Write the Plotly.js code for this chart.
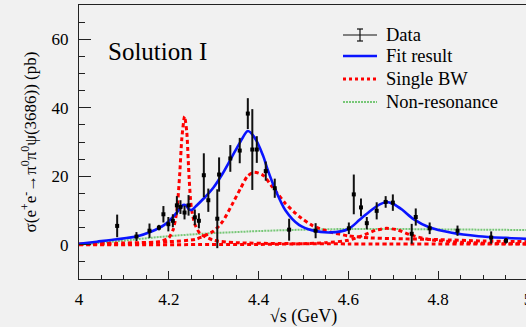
<!DOCTYPE html>
<html>
<head>
<meta charset="utf-8">
<script src="https://cdn.plot.ly/plotly-3.0.1.min.js"></script>
<style>
html,body{margin:0;padding:0;overflow:hidden;background:#f1f1f1;}
#chart{width:530px;height:327px;}
</style>
</head>
<body>
<div id="chart"></div>
<script>
// Data points
const dataX = [4.085,4.128,4.157,4.178,4.188,4.199,4.209,4.218,4.226,4.235,4.244,4.258,4.267,4.278,4.288,4.308,4.312,4.337,4.358,4.376,4.386,4.396,4.416,4.436,4.468,4.527,4.601,4.612,4.628,4.641,4.663,4.683,4.699,4.741,4.750,4.781,4.843,4.918,4.951];
const dataY = [5.5,2.4,4.1,5.0,8.9,6.0,7.0,11.5,11.0,9.4,11.5,8.0,7.0,20.3,13.0,7.6,20.5,25.2,27.5,38.3,27.8,27.8,21.5,16.5,4.4,4.1,4.8,14.7,10.9,6.3,9.9,12.5,12.3,3.2,8.1,4.8,4.1,2.1,1.2];
const dataErr = [3.3,1.3,2.1,0.8,2.4,2.1,1.9,2.7,2.0,2.0,3.0,2.3,2.2,6.4,3.4,8.6,5.0,3.9,3.7,4.5,11.8,3.9,2.8,2.8,3.2,2.2,1.7,5.8,2.6,1.8,2.5,1.7,2.4,2.9,2.5,1.7,1.5,1.8,0.8];

// Fit result
const fitX = [4.00,4.04,4.085,4.13,4.16,4.19,4.21,4.225,4.232,4.238,4.245,4.252,4.26,4.28,4.30,4.32,4.34,4.36,4.376,4.39,4.41,4.42,4.436,4.46,4.49,4.52,4.56,4.60,4.625,4.65,4.67,4.685,4.70,4.72,4.745,4.78,4.83,4.89,4.95,5.00];
const fitY = [0.3,0.9,1.6,2.5,3.8,5.8,8.2,10.6,11.6,11.5,10.3,10.2,11.2,13.8,16.8,20.8,25.5,30.2,33.2,31.5,26.0,22.0,16.5,10.0,5.8,4.2,3.6,4.6,7.3,10.0,11.8,12.5,11.9,10.2,7.5,5.1,3.5,2.5,2.0,1.7];

// Single BW components
const bw1X = [4.00,4.10,4.15,4.18,4.20,4.21,4.218,4.224,4.229,4.235,4.240,4.245,4.25,4.258,4.27,4.30,4.35,4.45,4.60,5.00];
const bw1Y = [0.1,0.3,0.5,0.9,2.0,4.5,10,20,31,37.5,33,20,11,6.0,3.2,1.3,0.6,0.35,0.25,0.2];
const bw2X = [4.00,4.10,4.20,4.26,4.30,4.32,4.34,4.36,4.375,4.39,4.41,4.43,4.46,4.49,4.52,4.56,4.60,4.65,4.70,4.80,4.90,5.00];
const bw2Y = [0.2,0.5,0.9,1.6,4.0,6.8,11.5,16.5,20.0,21.2,20.3,17.0,12.0,8.3,5.6,3.7,2.6,2.0,1.8,1.5,1.1,0.9];
const bw3X = [4.00,4.40,4.50,4.55,4.60,4.63,4.66,4.685,4.71,4.74,4.78,4.85,4.95,5.00];
const bw3Y = [0.0,0.1,0.3,0.6,1.3,2.6,4.2,4.8,4.3,2.8,1.5,0.7,0.3,0.25];

// Non-resonance
const nrX = [4.00,4.05,4.10,4.15,4.20,4.25,4.30,4.35,4.40,4.50,4.60,4.70,4.80,4.90,5.00];
const nrY = [0.0,0.6,1.2,1.9,2.5,3.0,3.4,3.7,4.0,4.4,4.6,4.6,4.5,4.4,4.3];

// Axis ticks
const xTickVals = [4,4.2,4.4,4.6,4.8,5];
const xTickText = ["4","4.2","4.4","4.6","4.8","5"];
const yTickVals = [0,20,40,60];
const yTickText = ["0","20","40","60"];

const legendLabels = ["Data","Fit result","Single BW","Non-resonance"];

const FONT = "Liberation Serif";
const TXT = '#000';
const redLine = {color:'#ff0000', width:3, dash:'4px,3px', shape:'spline', smoothing:0.6};

const traces = [
  {x:nrX, y:nrY, mode:'lines', line:{color:'#77c777', width:2, dash:'2px,1px', shape:'spline'}, hoverinfo:'skip'},
  {x:bw1X, y:bw1Y, mode:'lines', line:redLine, hoverinfo:'skip'},
  {x:bw2X, y:bw2Y, mode:'lines', line:redLine, hoverinfo:'skip'},
  {x:bw3X, y:bw3Y, mode:'lines', line:redLine, hoverinfo:'skip'},
  {x:fitX, y:fitY, mode:'lines', line:{color:'#0a14ff', width:2.6, shape:'spline', smoothing:0.8}, hoverinfo:'skip'},
  {x:dataX, y:dataY, mode:'markers', marker:{symbol:'square', size:4, color:'#000'},
   error_y:{type:'data', array:dataErr, visible:true, color:'#111', thickness:2, width:0}}
];

// legend geometry (paper coords)
const L = 79, PW = 449, T = 5, PH = 274;
const px = v => (v - L) / PW;
const py = v => (T + PH - v) / PH;
const rows = [35, 56, 79, 102];
const annotations = [
  {text:'Solution I', xref:'paper', yref:'paper', x:px(106), y:py(52), xanchor:'left', yanchor:'middle', showarrow:false, font:{family:FONT, size:25, color:TXT}}
];
legendLabels.forEach((t,i)=>{
  annotations.push({text:t, xref:'paper', yref:'paper', x:px(384), y:py(rows[i]), xanchor:'left', yanchor:'middle', showarrow:false, font:{family:FONT, size:18.5, color:TXT}});
});
const shapes = [
  {type:'line', xref:'paper', yref:'paper', x0:px(343), x1:px(377), y0:py(rows[0]), y1:py(rows[0]), line:{color:'#111', width:1.2}},
  {type:'line', xref:'paper', yref:'paper', x0:px(360), x1:px(360), y0:py(rows[0]-6), y1:py(rows[0]+6), line:{color:'#111', width:1.2}},
  {type:'line', xref:'paper', yref:'paper', x0:px(357), x1:px(363), y0:py(rows[0]-6), y1:py(rows[0]-6), line:{color:'#111', width:1.2}},
  {type:'line', xref:'paper', yref:'paper', x0:px(357), x1:px(363), y0:py(rows[0]+6), y1:py(rows[0]+6), line:{color:'#111', width:1.2}},
  {type:'line', xref:'paper', yref:'paper', x0:px(343), x1:px(377), y0:py(rows[1]), y1:py(rows[1]), line:{color:'#0a14ff', width:2.6}},
  {type:'line', xref:'paper', yref:'paper', x0:px(343), x1:px(377), y0:py(rows[2]), y1:py(rows[2]), line:{color:'#ff0000', width:3, dash:'3px,3px'}},
  {type:'line', xref:'paper', yref:'paper', x0:px(343), x1:px(377), y0:py(rows[3]), y1:py(rows[3]), line:{color:'#77c777', width:2, dash:'2px,1px'}}
];

const layout = {
  width:530, height:327,
  margin:{l:79, r:2, t:5, b:48},
  paper_bgcolor:'#f1f1f1', plot_bgcolor:'#f1f1f1',
  showlegend:false,
  font:{family:FONT, color:TXT},
  xaxis:{
    range:[4,5], tickmode:'array', tickvals:xTickVals, ticktext:xTickText,
    ticks:'inside', ticklen:8, tickcolor:'#222', tickwidth:1,
    minor:{tick0:4, dtick:0.05, ticks:'inside', ticklen:4, tickcolor:'#222', tickwidth:1},
    showline:true, linecolor:'#222', linewidth:1, mirror:true,
    showgrid:false, zeroline:false,
    tickfont:{family:FONT, size:17, color:TXT}, ticklabelstandoff:5, ticklabeloverflow:'allow',
    title:{text:'√s (GeV)', font:{family:FONT, size:18, color:TXT}, standoff:0},
    automargin:false
  },
  yaxis:{
    range:[-10,70], tickmode:'array', tickvals:yTickVals, ticktext:yTickText,
    ticks:'inside', ticklen:12, tickcolor:'#222', tickwidth:1,
    minor:{tick0:0, dtick:5, ticks:'inside', ticklen:6, tickcolor:'#222', tickwidth:1},
    showline:true, linecolor:'#222', linewidth:1, mirror:true,
    showgrid:false, zeroline:false,
    tickfont:{family:FONT, size:17, color:TXT}, ticklabelstandoff:6,
    title:{text:'σ(e<sup>+</sup>e<sup>-</sup>→π<sup>0</sup>π<sup>0</sup>ψ(3686)) (pb)', font:{family:FONT, size:17, color:TXT}, standoff:10},
    automargin:false
  },
  annotations:annotations,
  shapes:shapes
};

Plotly.newPlot('chart', traces, layout, {staticPlot:true, displayModeBar:false});
</script>
</body>
</html>
